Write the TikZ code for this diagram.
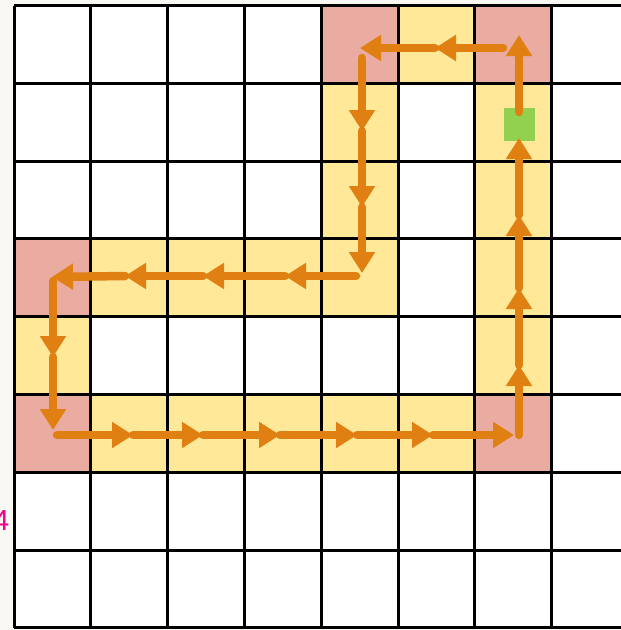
\documentclass[tikz,border=0pt]{standalone}
\usepackage{fontspec}
\newfontfamily\lblfont{Liberation Sans}
\usetikzlibrary{arrows.meta}
\definecolor{bgc}{RGB}{249,248,242}
\definecolor{pinkc}{RGB}{234,171,160}
\definecolor{yelc}{RGB}{255,233,153}
\definecolor{grnc}{RGB}{146,208,80}
\definecolor{orgc}{RGB}{224,128,18}
\tikzset{
  pinkcell/.style={fill=pinkc},
  yelcell/.style={fill=yelc},
  gridline/.style={draw=black,line width=3pt},
  arr/.style={draw=orgc,line width=8.5pt,line cap=round,-{Triangle[length=21pt,width=25pt]}},
  goalbox/.style={fill=grnc,draw=none,minimum width=31pt,minimum height=33pt,inner sep=0pt},
}
\begin{document}
\begin{tikzpicture}[x=1pt,y=-1pt]
\useasboundingbox (0,0) rectangle (621,630);
\fill[bgc] (0,0) rectangle (621,630);
\begin{scope}
\clip (0,0) rectangle (621,630);
\def\cw{76.8}\def\ch{77.8}\def\ox{14}\def\oy{5.5}
\fill[white] (\ox,\oy) rectangle ({\ox+8*\cw},{\oy+8*\ch});
% coloured cells: col/row
\foreach \c/\r in {4/0,6/0,0/3,0/5,6/5}
  \fill[pinkcell] ({\ox+\c*\cw},{\oy+\r*\ch}) rectangle ({\ox+(\c+1)*\cw},{\oy+(\r+1)*\ch});
\foreach \c/\r in {5/0,4/1,6/1,4/2,6/2,1/3,2/3,3/3,4/3,6/3,0/4,6/4,1/5,2/5,3/5,4/5,5/5}
  \fill[yelcell] ({\ox+\c*\cw},{\oy+\r*\ch}) rectangle ({\ox+(\c+1)*\cw},{\oy+(\r+1)*\ch});
\foreach \i in {0,...,8} {
  \draw[gridline] ({\ox+\i*\cw},{\oy}) -- ({\ox+\i*\cw},{\oy+8*\ch});
  \draw[gridline] ({\ox},{\oy+\i*\ch}) -- ({\ox+8*\cw},{\oy+\i*\ch});
}
\end{scope}
\node[goalbox] (goal) at (519.5,124.5) {};
% path points
\coordinate (R0) at (519,435);
\coordinate (R1) at (519,365);
\coordinate (R2) at (519,288);
\coordinate (R3) at (519,215);
\coordinate (R4) at (519,138);
\coordinate (G0) at (519,112);
\coordinate (T0) at (519,35);
\coordinate (T1) at (503,48);
\coordinate (T2) at (435,48);
\coordinate (T3) at (360,48);
\coordinate (L0) at (362,58);
\coordinate (L1) at (362,131);
\coordinate (L2) at (362,207);
\coordinate (L3) at (362,273);
\coordinate (M0) at (356,276);
\coordinate (M1) at (285,276);
\coordinate (M2) at (203,276);
\coordinate (M3) at (125,276);
\coordinate (M4) at (52,277);
\coordinate (D0) at (53,281);
\coordinate (D1) at (53,357);
\coordinate (D2) at (53,430);
\coordinate (B0) at (57,435);
\coordinate (B1) at (133,435);
\coordinate (B2) at (203,435);
\coordinate (B3) at (280,435);
\coordinate (B4) at (357,435);
\coordinate (B5) at (433,435);
\coordinate (B6) at (514,435);
\draw[arr] (B0) -- (B1);
\draw[arr] (B1) -- (B2);
\draw[arr] (B2) -- (B3);
\draw[arr] (B3) -- (B4);
\draw[arr] (B4) -- (B5);
\draw[arr] (B5) -- (B6);
\draw[arr] (R0) -- (R1);
\draw[arr] (R1) -- (R2);
\draw[arr] (R2) -- (R3);
\draw[arr] (R3) -- (R4);
\draw[arr] (G0) -- (T0);
\draw[arr] (T1) -- (T2);
\draw[arr] (T2) -- (T3);
\draw[arr] (L0) -- (L1);
\draw[arr] (L1) -- (L2);
\draw[arr] (L2) -- (L3);
\draw[arr] (M0) -- (M1);
\draw[arr] (M1) -- (M2);
\draw[arr] (M2) -- (M3);
\draw[arr] (M3) -- (M4);
\draw[arr] (D0) -- (D1);
\draw[arr] (D1) -- (D2);
\node[anchor=east,inner sep=0pt,text=magenta,font=\lblfont\fontsize{29}{29}\selectfont] (lbl) at (9.5,521) {4};
\end{tikzpicture}
\end{document}
